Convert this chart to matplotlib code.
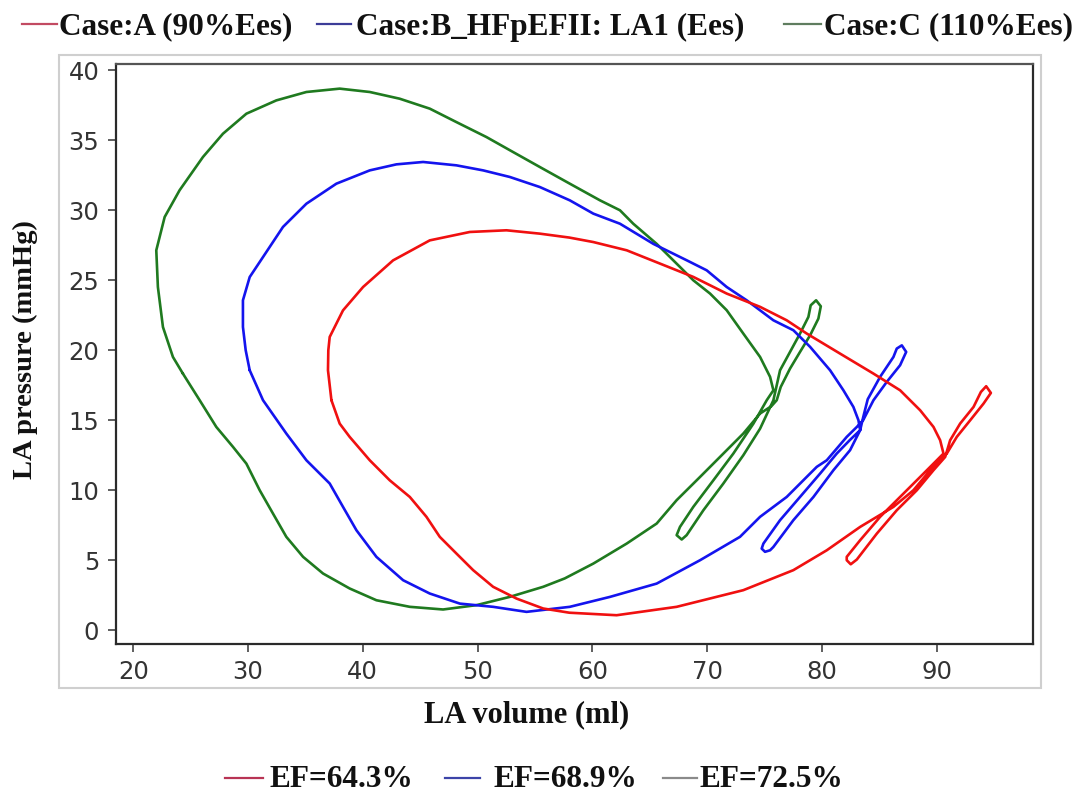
import matplotlib
matplotlib.use('Agg')
import matplotlib.pyplot as plt
from matplotlib.lines import Line2D
from matplotlib.patches import Rectangle

# LA pressure-volume loops for the three cases (volume in ml, pressure in mmHg)
red_vol = [37.27, 36.97, 37.00, 37.12, 38.28, 40.03, 42.64, 45.84, 49.33, 52.52,
           55.43, 58.00, 60.09, 63.00, 65.90, 68.80, 71.71, 74.62, 76.94, 78.69,
           81.59, 84.50, 86.82, 88.57, 89.73, 90.31, 90.60,
           90.02, 88.57, 86.82, 85.08, 83.34, 82.17, 82.17, 82.52, 83.05,
           84.79, 86.53, 88.28, 89.73, 90.75, 91.18, 92.05, 93.22, 93.86, 94.32,
           94.73, 94.09, 92.93, 91.76, 90.89,
           90.31, 89.44, 87.98, 86.24, 83.34, 80.43, 77.52, 73.16, 67.35, 62.12,
           58.00, 55.72, 53.40, 51.36, 49.62, 48.16, 46.71, 45.55, 44.10, 42.35,
           40.61, 38.86, 37.99]
red_pres = [16.43, 18.57, 20.00, 20.95, 22.85, 24.52, 26.42, 27.85, 28.45, 28.57,
            28.33, 28.05, 27.73, 27.14, 26.19, 25.24, 24.05, 23.10, 22.14, 21.19,
            19.76, 18.33, 17.14, 15.71, 14.52, 13.57, 12.62,
            12.14, 10.95, 9.52, 8.10, 6.43, 5.24, 5.00, 4.71, 5.05,
            6.90, 8.57, 10.00, 11.43, 12.38, 13.57, 14.76, 15.95, 17.02, 17.43,
            16.95, 16.19, 15.00, 13.81, 12.62,
            12.26, 11.43, 10.00, 8.81, 7.38, 5.71, 4.29, 2.86, 1.67, 1.07,
            1.25, 1.55, 2.26, 3.10, 4.29, 5.48, 6.67, 8.10, 9.52, 10.71,
            12.14, 13.81, 14.76]

blue_vol = [30.15, 29.80, 29.56, 29.56, 30.15, 31.31, 33.05, 35.09, 37.70, 40.61,
            42.93, 45.26, 48.16, 50.49, 52.81, 55.43, 58.04, 60.09, 62.41, 65.32,
            68.22, 69.97, 71.71, 73.45, 75.78, 77.52, 78.98, 80.72, 81.88, 82.75,
            83.19, 83.34,
            82.46, 81.30, 79.85, 78.10, 76.36, 74.91, 74.76, 75.05, 75.49, 75.78,
            77.52, 79.27, 81.01, 82.46, 83.34, 83.60, 84.00, 85.08, 86.24, 86.53,
            86.97, 87.35, 86.82, 85.66, 84.50, 83.60,
            83.05, 82.17, 80.43, 79.56, 76.94, 74.62, 72.87, 69.39, 65.61, 61.54,
            58.04, 54.27, 51.36, 48.46, 45.84, 43.52, 41.19, 39.45, 38.28, 37.12,
            35.09, 33.34, 31.31]
blue_pres = [18.57, 20.00, 21.66, 23.57, 25.23, 26.66, 28.81, 30.47, 31.90, 32.85,
             33.28, 33.45, 33.21, 32.85, 32.38, 31.66, 30.71, 29.76, 29.04, 27.60,
             26.43, 25.71, 24.52, 23.57, 22.14, 21.43, 20.24, 18.57, 17.14, 15.95,
             15.00, 14.29,
             13.60, 12.62, 11.19, 9.52, 7.86, 6.19, 5.83, 5.60, 5.71, 5.95,
             7.86, 9.52, 11.43, 12.86, 14.29, 15.20, 16.50, 18.10, 19.52, 20.12,
             20.35, 19.88, 18.93, 17.74, 16.43, 15.00,
             14.52, 13.81, 12.14, 11.67, 9.52, 8.10, 6.67, 5.00, 3.33, 2.38,
             1.67, 1.31, 1.67, 1.90, 2.62, 3.57, 5.24, 7.14, 8.81, 10.48,
             12.14, 14.05, 16.43]

green_vol = [24.33, 23.46, 22.59, 22.15, 22.01, 22.74, 24.04, 26.08, 27.82, 29.86,
             32.47, 35.09, 37.99, 40.61, 43.22, 45.84, 48.16, 50.78, 53.10, 55.43,
             58.04, 60.67, 62.41, 63.57, 65.61, 67.64, 68.80, 70.26, 71.71, 73.16,
             74.62, 75.49, 75.78,
             75.20, 74.04, 72.29, 70.55, 68.80, 67.64, 67.35, 67.79, 68.22,
             69.68, 71.42, 73.16, 74.62, 75.78, 76.36, 77.23, 78.10, 78.83, 79.03,
             79.50, 79.91, 79.70, 78.98, 78.10, 77.23, 76.42, 76.07,
             75.60, 74.62, 73.16, 71.13, 69.39, 67.35, 65.61, 63.00, 60.09, 57.60,
             55.72, 52.81, 49.91, 47.00, 44.10, 41.19, 38.86, 36.54, 34.80, 33.34,
             32.18, 31.02, 29.86, 28.69, 27.24, 25.79]
green_pres = [18.33, 19.52, 21.66, 24.52, 27.14, 29.52, 31.43, 33.81, 35.47, 36.90,
              37.85, 38.45, 38.69, 38.45, 37.97, 37.26, 36.30, 35.23, 34.16, 33.09,
              31.90, 30.71, 30.00, 29.04, 27.60, 25.95, 25.00, 24.05, 22.86, 21.19,
              19.52, 18.10, 17.14,
              16.43, 14.76, 12.62, 10.71, 8.81, 7.38, 6.79, 6.48, 6.79,
              8.57, 10.48, 12.50, 14.40, 16.43, 18.57, 19.88, 21.19, 22.38, 23.21,
              23.57, 23.14, 22.26, 21.07, 19.88, 18.69, 17.38, 16.43,
              16.00, 15.48, 14.05, 12.38, 10.95, 9.29, 7.62, 6.19, 4.76, 3.70,
              3.10, 2.38, 1.79, 1.48, 1.67, 2.14, 2.98, 4.05, 5.24, 6.67,
              8.33, 10.00, 11.90, 13.10, 14.52, 16.43]

case_labels = ['Case:A (90%Ees)', 'Case:B_HFpEFII: LA1 (Ees)', 'Case:C (110%Ees)']
ef_labels = ['EF=64.3%', 'EF=68.9%', 'EF=72.5%']
x_ticks = [20, 30, 40, 50, 60, 70, 80, 90]
y_ticks = [0, 5, 10, 15, 20, 25, 30, 35, 40]

W, H = 1086, 795
fig = plt.figure(figsize=(W / 100, H / 100), dpi=100)
fig.patch.set_facecolor('white')

# light frame around plot area + tick labels
fig.add_artist(Rectangle((59 / W, 1 - 688 / H), 982 / W, 633 / H,
                         transform=fig.transFigure, fill=False,
                         edgecolor='#cfcfcf', lw=1.5, zorder=0))

ax = fig.add_axes([116 / W, 1 - 643.5 / H, 917 / W, 579.5 / H])

line_kw = dict(lw=1.9, solid_joinstyle='round', solid_capstyle='round')
ax.plot(green_vol + green_vol[:1], green_pres + green_pres[:1], color='#1f7a1f', **line_kw)
ax.plot(blue_vol + blue_vol[:1], blue_pres + blue_pres[:1], color='#1414ee', **line_kw)
ax.plot(red_vol + red_vol[:1], red_pres + red_pres[:1], color='#f01010', **line_kw)

ax.set_xlim(18.5, 98.4)
ax.set_ylim(-0.95, 40.45)
ax.set_xticks(x_ticks)
ax.set_yticks(y_ticks)
ax.tick_params(axis='both', direction='out', length=6, width=1.2, color='#444444',
               labelsize=17.5, labelcolor='#333333', pad=6)
for spine in ax.spines.values():
    spine.set_color('#2a2a2a')
    spine.set_linewidth(1.6)
ax.spines['top'].set_color('#555555')

serif = ['Liberation Serif', 'DejaVu Serif']
fig.text(527 / W, 1 - 722 / H, 'LA volume (ml)', ha='center', va='baseline',
         family=serif, weight='bold', fontsize=22, color='#111111')
fig.text(25 / W, 1 - 350 / H, 'LA pressure (mmHg)', ha='center', va='center',
         rotation=90, family=serif, weight='bold', fontsize=20.5, color='#111111')


# legend rows: short colored dash followed by bold label
def legend_row(labels, colors, handle_x, text_x, line_y, base_y):
    for lab, col, (x0, x1), tx in zip(labels, colors, handle_x, text_x):
        fig.add_artist(Line2D([x0 / W, x1 / W], [1 - line_y / H, 1 - line_y / H],
                              transform=fig.transFigure, color=col, lw=1.6))
        fig.text(tx / W, 1 - base_y / H, lab, ha='left', va='baseline',
                 family=serif, weight='bold', fontsize=22.5, color='#111111')


legend_row(case_labels, ['#c24a62', '#3c3c98', '#5f7d5f'],
           [(22, 57), (317, 351), (784, 821)], [59, 356, 824], 23.5, 34.6)
legend_row(ef_labels, ['#b83454', '#3c44a8', '#8a8a8a'],
           [(225, 263), (445, 480), (663, 697)], [270, 493, 700], 778, 787)

fig.savefig('out.png', dpi=100)
